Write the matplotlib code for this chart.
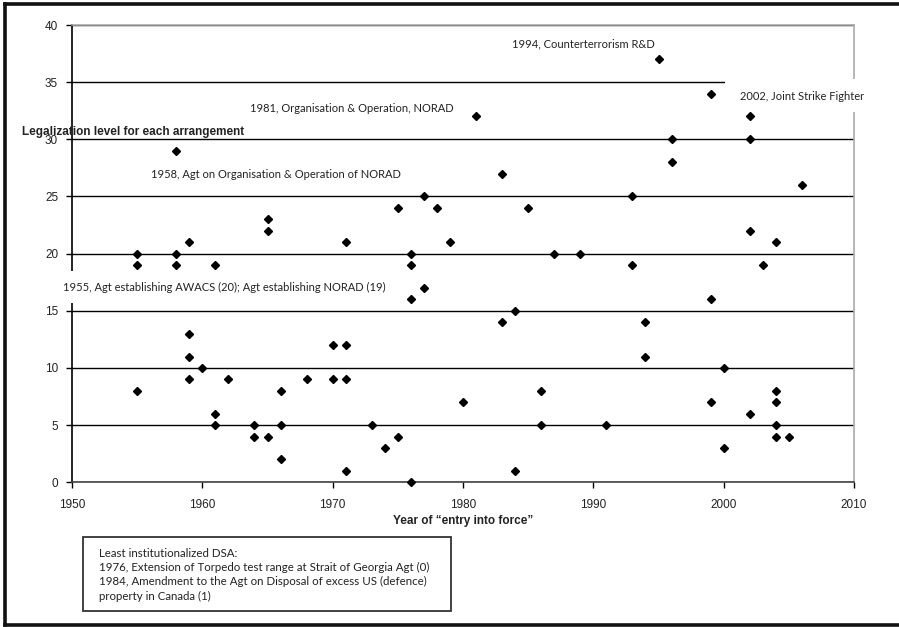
import matplotlib.pyplot as plt
from matplotlib.lines import Line2D
from matplotlib.patches import Rectangle

# year of entry into force / legalization level
years = [1955, 1955, 1955,
         1958, 1958, 1958,
         1959, 1959, 1959, 1959,
         1960,
         1961, 1961, 1961,
         1962,
         1964, 1964,
         1965, 1965, 1965,
         1966, 1966, 1966,
         1968,
         1970, 1970,
         1971, 1971, 1971, 1971,
         1973, 1974,
         1975, 1975,
         1976, 1976, 1976, 1976,
         1977, 1977,
         1978, 1979, 1980, 1981,
         1983, 1983,
         1984, 1984,
         1985,
         1986, 1986,
         1987, 1989, 1991,
         1993, 1993,
         1994, 1994,
         1995,
         1996, 1996,
         1999, 1999, 1999,
         2000, 2000,
         2002, 2002, 2002, 2002,
         2003,
         2004, 2004, 2004, 2004, 2004,
         2005, 2006]
levels = [20, 19, 8,
          29, 20, 19,
          21, 13, 11, 9,
          10,
          19, 6, 5,
          9,
          5, 4,
          23, 22, 4,
          8, 5, 2,
          9,
          12, 9,
          21, 12, 9, 1,
          5, 3,
          24, 4,
          20, 19, 16, 0,
          25, 17,
          24, 21, 7, 32,
          27, 14,
          15, 1,
          24,
          8, 5,
          20, 20, 5,
          25, 19,
          14, 11,
          37,
          30, 28,
          34, 16, 7,
          10, 3,
          32, 30, 22, 6,
          19,
          21, 8, 7, 5, 4,
          4, 26]

x_ticks = [1950, 1960, 1970, 1980, 1990, 2000, 2010]
y_ticks = [0, 5, 10, 15, 20, 25, 30, 35, 40]

W, H = 899, 627
fig = plt.figure(figsize=(W / 100, H / 100), dpi=100)
fig.patch.set_facecolor('white')


def fx(px):
    return px / W


def fy(py):
    return 1 - py / H


ax = fig.add_axes([fx(72), fy(482.3), fx(854) - fx(72), fy(25) - fy(482.3)])
ax.set_xlim(1950, 2010)
ax.set_ylim(0, 40)
ax.set_xticks(x_ticks)
ax.set_yticks(y_ticks)
ax.yaxis.grid(True, color='black', linewidth=1.0)
ax.set_axisbelow(True)
ax.tick_params(axis='both', direction='out', length=4, width=1, color='black',
               labelsize=8.5, labelcolor='#222222')
ax.tick_params(axis='x', pad=8)
ax.tick_params(axis='y', pad=6)
for lab in ax.get_xticklabels() + ax.get_yticklabels():
    lab.set_fontfamily('Liberation Sans')

ax.spines['left'].set_color('black')
ax.spines['bottom'].set_color('#444444')
ax.spines['top'].set_color('#aaaaaa')
ax.spines['right'].set_color('#aaaaaa')
for s in ax.spines.values():
    s.set_linewidth(1.2)

ax.plot(years, levels, linestyle='none', marker='D', markersize=4.5,
        color='black', clip_on=False, zorder=3)

note_font = dict(family='Lato', fontsize=8, color='#222222', va='center', ha='left')
fig.text(fx(512), fy(44), '1994, Counterterrorism R&D', **note_font)
fig.text(fx(250), fy(108), '1981, Organisation & Operation, NORAD', **note_font)
fig.text(fx(151), fy(174), '1958, Agt on Organisation & Operation of NORAD', **note_font)

# white label box that hides the end of the 35 line and part of the right border
fig.add_artist(Rectangle((fx(725), fy(112)), fx(872) - fx(725), fy(79) - fy(112),
                         transform=fig.transFigure, facecolor='white',
                         edgecolor='none', zorder=2.5))
fig.text(fx(740), fy(97), '2002, Joint Strike Fighter', **note_font)
fig.text(fx(63), fy(287), '1955, Agt establishing AWACS (20); Agt establishing NORAD (19)',
         bbox=dict(facecolor='white', edgecolor='none', boxstyle='square,pad=0.9'),
         **note_font)

fig.text(fx(22), fy(132), 'Legalization level for each arrangement',
         family='Liberation Sans', fontsize=8.5, fontweight='bold', color='#222222',
         va='center', ha='left')
fig.text(fx(463), fy(521), 'Year of \u201centry into force\u201d',
         family='Liberation Sans', fontsize=8.5, fontweight='bold', color='#222222',
         va='center', ha='center')

# note box under the chart
fig.add_artist(Rectangle((fx(83), fy(611)), fx(451) - fx(83), fy(537) - fy(611),
                         transform=fig.transFigure, facecolor='white',
                         edgecolor='#333333', linewidth=1.3))
fig.text(fx(99), fy(548),
         'Least institutionalized DSA:\n'
         '1976, Extension of Torpedo test range at Strait of Georgia Agt (0)\n'
         '1984, Amendment to the Agt on Disposal of excess US (defence)\n'
         'property in Canada (1)',
         family='Lato', fontsize=8.3, color='#222222', va='top', ha='left',
         linespacing=1.35)

# outer frame (top, left, bottom; right side runs off the page)
frame = dict(transform=fig.transFigure, color='#111111', linewidth=2.6,
             solid_capstyle='projecting')
fig.add_artist(Line2D([fx(5), 1.0], [fy(4), fy(4)], **frame))
fig.add_artist(Line2D([fx(5), fx(5)], [fy(4), fy(625)], **frame))
fig.add_artist(Line2D([fx(5), 1.0], [fy(625), fy(625)], **frame))

fig.savefig('out.png', dpi=100)
